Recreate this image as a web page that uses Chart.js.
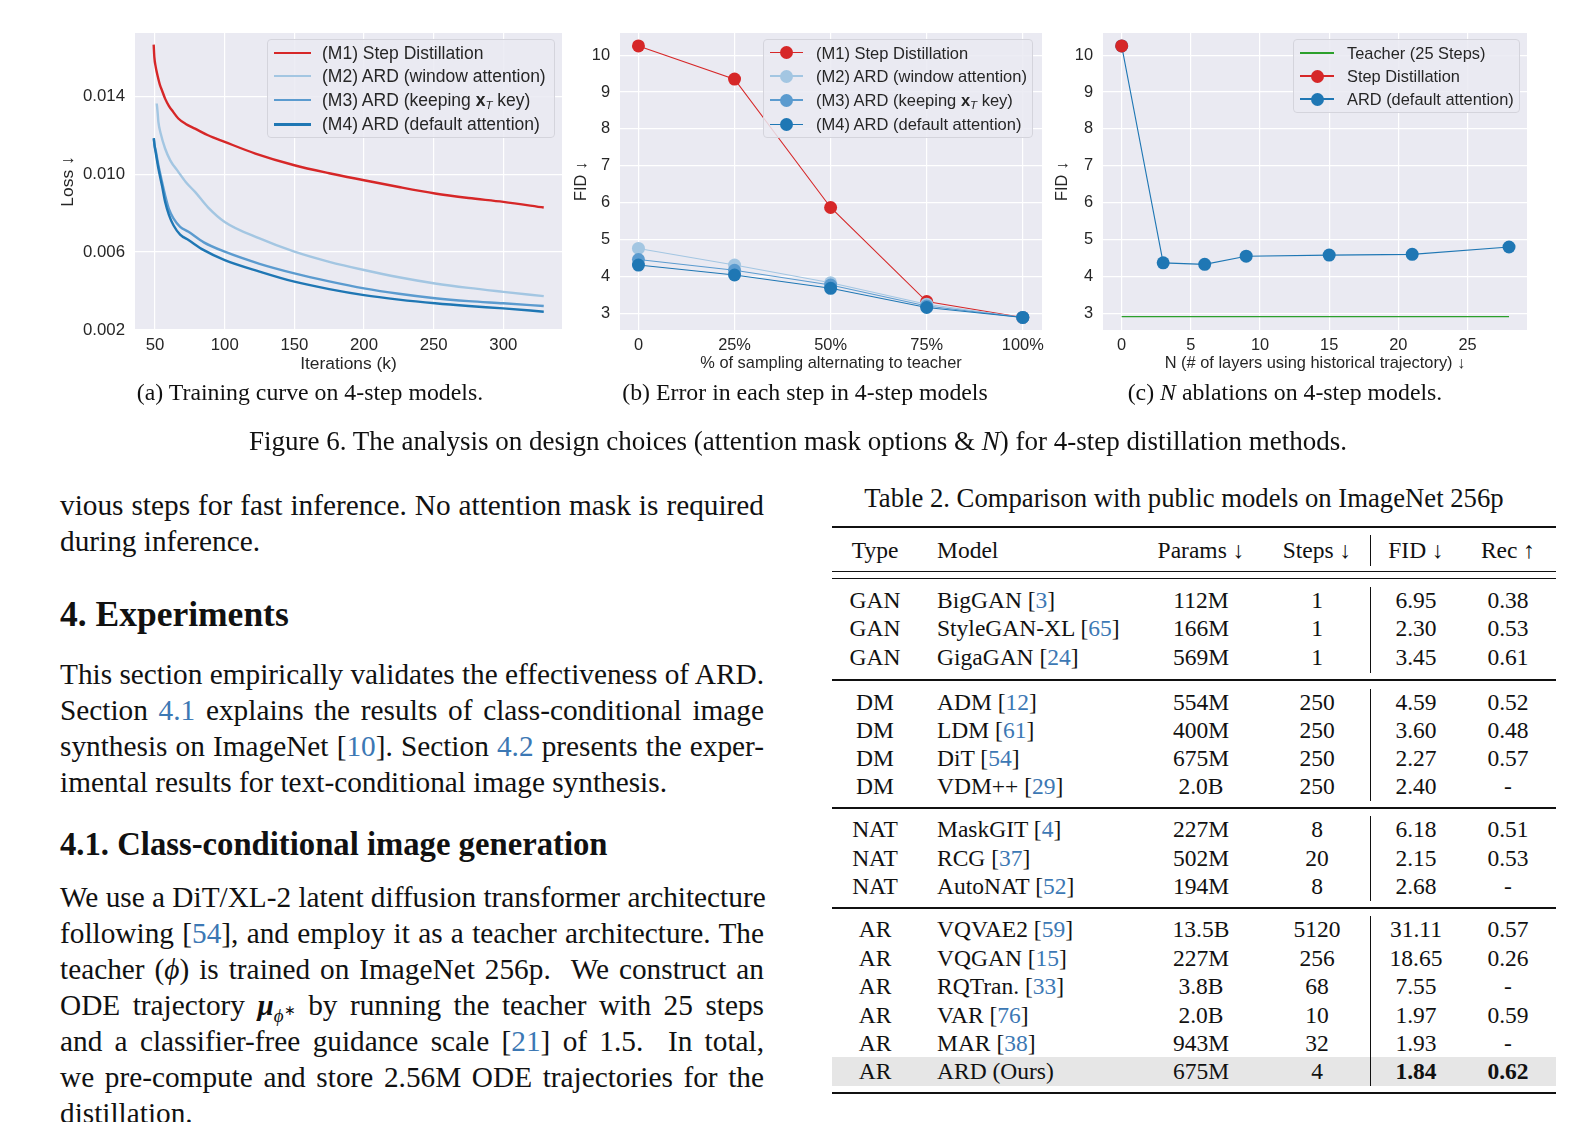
<!DOCTYPE html>
<html><head><meta charset="utf-8">
<script src="https://cdn.jsdelivr.net/npm/chart.js@4.4.0/dist/chart.umd.min.js"></script>
<style>
html,body{margin:0;padding:0;background:#fff;width:1578px;height:1122px;overflow:hidden;}
body{position:relative;font-family:'Liberation Serif','Times New Roman',serif;color:#111;}
.cv{position:absolute;top:0;}
.leg{position:absolute;background:rgba(234,234,242,0.85);border:1px solid #d4d4dc;border-radius:4px;box-sizing:border-box;font-family:'Liberation Sans',Arial,sans-serif;color:#262626;}
.lrow{position:absolute;left:0;right:0;height:24px;line-height:24px;white-space:nowrap;}
.sw{position:absolute;top:0;height:24px;}
.sw .ln{position:absolute;left:0;right:0;top:12px;}
.sw .mk{position:absolute;width:13px;height:13px;border-radius:50%;top:5.5px;}
.lt{position:absolute;top:0;}
.t{position:absolute;white-space:nowrap;}
.line{position:absolute;left:60px;width:704px;height:36px;line-height:36px;font-size:29.3px;white-space:nowrap;}
.j{text-align:justify;text-align-last:justify;}
.c{color:#3c78b4;}
.tr{position:absolute;left:832px;width:724px;background:#111;}
.cell{position:absolute;height:28px;line-height:28px;font-size:23.5px;white-space:nowrap;}
</style>
</head><body>

<div class="cv" id="wa" style="left:55px;"><canvas id="ca" width="537" height="380"></canvas></div>
<div class="cv" id="wb" style="left:540px;"><canvas id="cb" width="532" height="380"></canvas></div>
<div class="cv" id="wc" style="left:1023px;"><canvas id="cc" width="534" height="380"></canvas></div>

<div class="leg" id="lega" style="left:267px;top:39px;width:288px;height:99px;font-size:17.5px;"></div>
<div class="leg" id="legb" style="left:763px;top:39px;width:270px;height:99px;font-size:16.5px;"></div>
<div class="leg" id="legc" style="left:1293px;top:39px;width:227px;height:74px;font-size:16.4px;"></div>

<div id="texts"></div>
<div id="table"></div>

<script>
// ---------------- DATA ----------------
// (a) Training curves: [iterations (k), loss]
const lossM1 = [[49,0.01665],[49.5,0.0160],[50.5,0.0155],[51.2,0.01525],[53.6,0.01456],[55,0.0143],[57.2,0.01388],[60,0.0135],[63,0.0132],[66.7,0.01286],[72,0.01258],[78.7,0.01234],[88,0.0120],[100,0.01166],[122,0.01106],[150,0.01046],[175,0.01005],[200,0.00969],[225,0.00934],[251,0.00901],[275,0.00878],[300,0.00858],[329,0.00829]];
const lossM2 = [[51.2,0.01363],[51.8,0.0132],[52.4,0.01268],[54,0.0121],[57.2,0.01132],[61,0.0107],[66.7,0.01012],[72,0.0096],[78.7,0.00909],[88,0.0083],[100,0.00755],[125,0.0067],[150,0.00602],[175,0.0055],[200,0.00508],[225,0.00471],[251,0.00439],[275,0.00416],[300,0.00396],[329,0.00374]];
const lossM3 = [[49.1,0.01183],[49.6,0.0115],[50.5,0.0112],[52.4,0.01046],[55,0.0096],[57.2,0.00892],[60,0.0082],[63.2,0.00773],[68,0.0073],[74,0.00704],[85,0.0065],[100,0.00602],[125,0.0054],[150,0.00491],[175,0.0045],[200,0.00414],[225,0.00386],[251,0.00363],[275,0.00348],[300,0.00337],[329,0.00323]];
const lossM4 = [[49.1,0.01185],[49.6,0.0115],[50.5,0.0111],[52.4,0.01029],[55,0.0094],[57.2,0.00858],[60,0.0079],[63.2,0.00738],[68,0.0069],[74,0.00662],[85,0.0061],[100,0.00559],[125,0.0050],[150,0.00448],[175,0.0041],[200,0.00379],[225,0.00356],[251,0.00337],[275,0.00323],[300,0.00311],[329,0.00294]];
const ticksAx = [50,100,150,200,250,300];
const ticksAy = [0.002,0.006,0.010,0.014];

// (b) Error in each step
const pctB = [0,25,50,75,100];
const pctLabelsB = ['0','25%','50%','75%','100%'];
const fidM1 = [10.25,9.35,5.87,3.32,2.89];
const fidM2 = [4.76,4.31,3.83,3.25,2.89];
const fidM3 = [4.46,4.17,3.77,3.20,2.89];
const fidM4 = [4.31,4.04,3.68,3.16,2.89];
const ticksFid = [3,4,5,6,7,8,9,10];

// (c) N ablations
const layersN = [0,3,6,9,15,21,28];
const fidARD = [10.25,4.37,4.33,4.55,4.58,4.60,4.80];
const stepDistN = [0];
const stepDistFid = [10.25];
const teacherN = [0,28];
const teacherFid = [2.91,2.91];
const ticksN = [0,5,10,15,20,25];

// Table 2
const tType   = ['GAN','GAN','GAN','DM','DM','DM','DM','NAT','NAT','NAT','AR','AR','AR','AR','AR','AR'];
const tModel  = ['BigGAN','StyleGAN-XL','GigaGAN','ADM','LDM','DiT','VDM++','MaskGIT','RCG','AutoNAT','VQVAE2','VQGAN','RQTran.','VAR','MAR','ARD (Ours)'];
const tRef    = ['3','65','24','12','61','54','29','4','37','52','59','15','33','76','38',''];
const tParams = ['112M','166M','569M','554M','400M','675M','2.0B','227M','502M','194M','13.5B','227M','3.8B','2.0B','943M','675M'];
const tSteps  = ['1','1','1','250','250','250','250','8','20','8','5120','256','68','10','32','4'];
const tFID    = ['6.95','2.30','3.45','4.59','3.60','2.27','2.40','6.18','2.15','2.68','31.11','18.65','7.55','1.97','1.93','1.84'];
const tRec    = ['0.38','0.53','0.61','0.52','0.48','0.57','-','0.51','0.53','-','0.57','0.26','-','0.59','-','0.62'];

// ---------------- CHARTS ----------------
Chart.defaults.font.family = "'Liberation Sans', Arial, sans-serif";
Chart.defaults.font.size = 16.4;
Chart.defaults.color = '#262626';

const RED = '#d62728', BLUE = '#1f77b4', LB = '#a3c6e2', MB = '#5b9bcf', GREEN = '#2ca02c';
const bgPlugin = {id:'bg', beforeDraw(c){const a=c.chartArea, x=c.ctx; x.save(); x.fillStyle='#EAEAF2'; x.fillRect(a.left,a.top,a.right-a.left,a.bottom-a.top); x.restore();}};
const toXY = arr => arr.map(p => ({x:p[0], y:p[1]}));
const zip = (xs, ys) => xs.map((v,i) => ({x:v, y:ys[i]}));

function scales(o){
  return {
    x:{type:'linear', min:o.xmin, max:o.xmax,
       afterBuildTicks:s=>{s.ticks=o.xt.map(v=>({value:v}));},
       afterFit:s=>{s.height=50;},
       grid:{color:'#ffffff', lineWidth:1.2, drawTicks:false}, border:{display:false},
       ticks:{padding:o.xtp, maxRotation:0, autoSkip:false, callback:o.xcb, font:{size:o.tfs}},
       title:{display:true, text:o.xtitle, font:{size:o.tls}, padding:{top:0,bottom:o.xtb}}},
    y:{type:'linear', min:o.ymin, max:o.ymax,
       afterBuildTicks:s=>{s.ticks=o.yt.map(v=>({value:v}));},
       afterFit:s=>{s.width=80;},
       grid:{color:'#ffffff', lineWidth:1.2, drawTicks:false}, border:{display:false},
       ticks:{padding:10, autoSkip:false, callback:o.ycb, font:{size:o.tfs}},
       title:{display:true, text:o.ytitle, font:{size:o.tls}, padding:{top:o.ytp,bottom:0}}}
  };
}
const common = {responsive:false, animation:false, events:[], devicePixelRatio:1,
  layout:{padding:{top:33,right:30,left:0,bottom:0}},
  plugins:{legend:{display:false}, tooltip:{enabled:false}}};

new Chart(document.getElementById('ca'), {type:'line', plugins:[bgPlugin],
  data:{datasets:[
    {data:toXY(lossM1), borderColor:RED, borderWidth:2.4, pointRadius:0, order:4, cubicInterpolationMode:'monotone'},
    {data:toXY(lossM2), borderColor:LB, borderWidth:2.4, pointRadius:0, order:3, cubicInterpolationMode:'monotone'},
    {data:toXY(lossM3), borderColor:MB, borderWidth:2.4, pointRadius:0, order:2, cubicInterpolationMode:'monotone'},
    {data:toXY(lossM4), borderColor:BLUE, borderWidth:2.4, pointRadius:0, order:1, cubicInterpolationMode:'monotone'}]},
  options:Object.assign({}, common, {scales:scales({xmin:35.6,xmax:342.1,xt:ticksAx,xcb:v=>String(v),xtitle:'Iterations (k)',
    tfs:16.8, tls:17.4, xtp:4.9, xtb:5.6,
    ymin:0.002,ymax:0.01725,yt:ticksAy,ycb:v=>v.toFixed(3),ytitle:'Loss ↓',ytp:2.9})})});

const ptB = (d,col,ord) => ({data:zip(pctB,d), borderColor:col, backgroundColor:col, pointBackgroundColor:col, pointBorderColor:col, pointBorderWidth:0, pointRadius:6.5, borderWidth:1.1, order:ord, tension:0});
new Chart(document.getElementById('cb'), {type:'line', plugins:[bgPlugin],
  data:{datasets:[ptB(fidM1,RED,4), ptB(fidM2,LB,3), ptB(fidM3,MB,2), ptB(fidM4,BLUE,1)]},
  options:Object.assign({}, common, {scales:scales({xmin:-4.8,xmax:105,xt:pctB,xcb:v=>pctLabelsB[pctB.indexOf(v)],xtitle:'% of sampling alternating to teacher',
    tfs:16.4, tls:16.4, xtp:5.2, xtb:6.2,
    ymin:2.55,ymax:10.6,yt:ticksFid,ycb:v=>String(v),ytitle:'FID ↓',ytp:31.2})})});

new Chart(document.getElementById('cc'), {type:'line', plugins:[bgPlugin],
  data:{datasets:[
    {data:zip(stepDistN,stepDistFid), borderColor:RED, pointBackgroundColor:RED, pointBorderWidth:0, pointRadius:6.5, borderWidth:1.1, order:1},
    {data:zip(layersN,fidARD), borderColor:BLUE, pointBackgroundColor:BLUE, pointBorderWidth:0, pointRadius:6.5, borderWidth:1.1, order:2},
    {data:zip(teacherN,teacherFid), borderColor:GREEN, pointRadius:0, borderWidth:1.2, order:3}]},
  options:Object.assign({}, common, {scales:scales({xmin:-1.35,xmax:29.3,xt:ticksN,xcb:v=>String(v),xtitle:'N (# of layers using historical trajectory) ↓',
    tfs:16.4, tls:16.4, xtp:5.2, xtb:6.2,
    ymin:2.55,ymax:10.6,yt:ticksFid,ycb:v=>String(v),ytitle:'FID ↓',ytp:29.9})})});

// ---------------- LEGENDS (HTML) ----------------
function legend(id, rows, swLeft, swW, txtLeft){
  const el = document.getElementById(id);
  rows.forEach(r=>{
    const d = document.createElement('div'); d.className='lrow'; d.style.top=(r.cy-12)+'px';
    let sw = '<div class="sw" style="left:'+swLeft+'px;width:'+swW+'px"><div class="ln" style="height:'+r.lw+'px;margin-top:'+(-r.lw/2)+'px;background:'+r.col+'"></div>';
    if(r.mk) sw += '<div class="mk" style="left:'+(swW/2-6.5)+'px;background:'+r.col+'"></div>';
    sw += '</div>';
    d.innerHTML = sw + '<span class="lt" style="left:'+txtLeft+'px">'+r.txt+'</span>';
    el.appendChild(d);
  });
}
const xT = '<b>x</b><sub style="font-size:11.5px;vertical-align:-3px;font-style:italic">T</sub>';
legend('lega', [
  {cy:12.7, col:RED, lw:2.4, txt:'(M1) Step Distillation'},
  {cy:36, col:LB, lw:2.4, txt:'(M2) ARD (window attention)'},
  {cy:60, col:MB, lw:2.4, txt:'(M3) ARD (keeping '+xT+' key)'},
  {cy:84.3, col:BLUE, lw:2.4, txt:'(M4) ARD (default attention)'}], 6, 37, 54);
legend('legb', [
  {cy:12.7, col:RED, lw:1.2, mk:1, txt:'(M1) Step Distillation'},
  {cy:36, col:LB, lw:1.2, mk:1, txt:'(M2) ARD (window attention)'},
  {cy:60, col:MB, lw:1.2, mk:1, txt:'(M3) ARD (keeping '+xT+' key)'},
  {cy:84.3, col:BLUE, lw:1.2, mk:1, txt:'(M4) ARD (default attention)'}], 6, 33, 52);
legend('legc', [
  {cy:13, col:GREEN, lw:1.2, txt:'Teacher (25 Steps)'},
  {cy:36, col:RED, lw:1.2, mk:1, txt:'Step Distillation'},
  {cy:59, col:BLUE, lw:1.2, mk:1, txt:'ARD (default attention)'}], 6, 34, 53);

// ---------------- TEXT ----------------
const T = document.getElementById('texts');
function addText(html, cx, cy, size, extra){
  const d = document.createElement('div'); d.className='t';
  d.style.cssText += 'left:'+cx+'px;top:'+(cy-size)+'px;height:'+(2*size)+'px;line-height:'+(2*size)+'px;font-size:'+size+'px;transform:translateX(-50%);'+(extra||'');
  d.innerHTML = html; T.appendChild(d);
}
addText('(a) Training curve on 4-step models.', 310, 393, 23.8);
addText('(b) Error in each step in 4-step models', 805, 393, 23.8);
addText('(c) <i>N</i> ablations on 4-step models.', 1285, 393, 23.8);
addText('Figure 6. The analysis on design choices (attention mask options &amp; <i>N</i>) for 4-step distillation methods.', 798, 441, 27);
addText('Table 2. Comparison with public models on ImageNet 256p', 1184, 499, 26.7);

function addLine(html, cy, just, extra){
  const d = document.createElement('div'); d.className='line'+(just?' j':'');
  d.style.top=(cy-18)+'px'; if(extra) d.style.cssText += extra;
  d.innerHTML = html; T.appendChild(d);
}
addLine('vious steps for fast inference. No attention mask is required', 505, 1);
addLine('during inference.', 541, 0);
addLine('<b>4. Experiments</b>', 614, 0, 'font-size:35.5px;');
addLine('This section empirically validates the effectiveness of ARD.', 674, 1);
addLine('Section <span class="c">4.1</span> explains the results of class-conditional image', 710, 1);
addLine('synthesis on ImageNet [<span class="c">10</span>]. Section <span class="c">4.2</span> presents the exper-', 746, 1);
addLine('imental results for text-conditional image synthesis.', 782, 0);
addLine('<b>4.1. Class-conditional image generation</b>', 844, 0, 'font-size:32.7px;');
addLine('We use a DiT/XL-2 latent diffusion transformer architecture', 897, 1);
addLine('following [<span class="c">54</span>], and employ it as a teacher architecture. The', 933, 1);
addLine('teacher (<i>ϕ</i>) is trained on ImageNet 256p. &nbsp;We construct an', 969, 1);
addLine('ODE trajectory <b><i>μ</i></b><sub style="font-size:19px;line-height:0"><i>ϕ</i><sup style="font-size:14px">∗</sup></sub> by running the teacher with 25 steps', 1005, 1);
addLine('and a classifier-free guidance scale [<span class="c">21</span>] of 1.5. &nbsp;In total,', 1041, 1);
addLine('we pre-compute and store 2.56M ODE trajectories for the', 1077, 1);
addLine('distillation.', 1113, 0);

// ---------------- TABLE ----------------
const TB = document.getElementById('table');
function rule(y, h){ const d=document.createElement('div'); d.className='tr'; d.style.top=(y-h/2)+'px'; d.style.height=h+'px'; TB.appendChild(d); }
function vline(y0, y1){ const d=document.createElement('div'); d.style.cssText='position:absolute;left:1370px;width:1.3px;background:#111;top:'+y0+'px;height:'+(y1-y0)+'px'; TB.appendChild(d); }
function cell(html, x, cy, align, bold){
  const d=document.createElement('div'); d.className='cell'; d.style.top=(cy-14)+'px';
  if(align==='c'){ d.style.left=x+'px'; d.style.transform='translateX(-50%)'; } else { d.style.left=x+'px'; }
  if(bold) d.style.fontWeight='bold';
  d.innerHTML=html; TB.appendChild(d);
}
const rowY = [600,628,657, 702,730,758,786, 829,858,886, 929,958,986,1015,1043,1071];
(function(){const d=document.createElement('div'); d.style.cssText='position:absolute;left:832px;width:724px;top:1057px;height:29px;background:#e6e6e6;'; TB.appendChild(d);})();
rule(527, 2.6); rule(571.5, 1.8); rule(578.5, 1.8); rule(680, 1.6); rule(808, 1.6); rule(908, 1.6); rule(1093, 2.8);
const hy = 550;
cell('Type', 875, hy, 'c'); cell('Model', 937, hy, 'l'); cell('Params ↓', 1201, hy, 'c'); cell('Steps ↓', 1317, hy, 'c');
cell('FID ↓', 1416, hy, 'c'); cell('Rec ↑', 1508, hy, 'c');
vline(535, 566); vline(587, 673); vline(689, 801); vline(816, 901); vline(916, 1086);
tType.forEach((t,i)=>{
  const y=rowY[i], last=(i===tType.length-1);
  cell(t, 875, y, 'c');
  cell(tModel[i] + (tRef[i] ? ' [<span class="c">'+tRef[i]+'</span>]' : ''), 937, y, 'l');
  cell(tParams[i], 1201, y, 'c'); cell(tSteps[i], 1317, y, 'c');
  cell(tFID[i], 1416, y, 'c', last); cell(tRec[i], 1508, y, 'c', last);
});
</script>
</body></html>
